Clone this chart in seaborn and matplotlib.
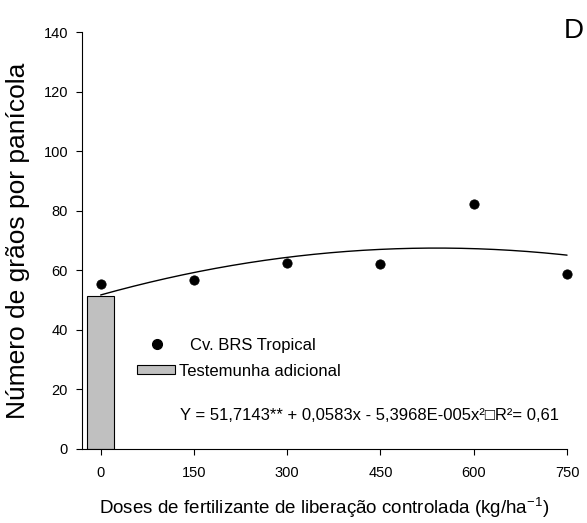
import numpy as np
import pandas as pd
import matplotlib
matplotlib.use("Agg")
import matplotlib.pyplot as plt
import seaborn as sns
from matplotlib.patches import Patch
from matplotlib.lines import Line2D

sns.set_style("ticks")
plt.rcParams['font.family'] = ['Liberation Sans', 'DejaVu Sans']
plt.rcParams['text.color'] = 'black'
plt.rcParams['axes.labelcolor'] = 'black'
plt.rcParams['xtick.color'] = 'black'
plt.rcParams['ytick.color'] = 'black'
plt.rcParams['axes.edgecolor'] = 'black'

doses = [0, 150, 300, 450, 600, 750]
graos = [55.3, 56.7, 62.5, 62.2, 82.3, 58.8]
control_x = [0]
control_y = [51.5]
coef = [51.7143, 0.0583, -5.3968e-05]
xticks = [0, 150, 300, 450, 600, 750]
yticks = [0, 20, 40, 60, 80, 100, 120, 140]

fig = plt.figure(figsize=(5.87, 5.23), dpi=100)
ax = fig.add_axes([0.1397, 0.1415, 0.8263, 0.7973])

ax.bar(control_x, control_y, width=43, color='#c0c0c0', edgecolor='black', linewidth=0.8, zorder=2)

xs = np.linspace(0, 750, 200)
curve = pd.DataFrame({'x': xs, 'y': coef[0] + coef[1] * xs + coef[2] * xs ** 2})
sns.lineplot(data=curve, x='x', y='y', ax=ax, color='black', linewidth=1.0, zorder=3, clip_on=False)

df = pd.DataFrame({'dose': doses, 'graos': graos})
sns.scatterplot(data=df, x='dose', y='graos', ax=ax, color='black', s=45, edgecolor='black',
                zorder=4, clip_on=False)

ax.set_xlim(-30, 750)
ax.set_ylim(0, 140)
ax.set_xticks(xticks)
ax.set_yticks(yticks)
ax.tick_params(axis='x', labelsize=10.5, length=4, width=0.8, direction='out', pad=8)
ax.tick_params(axis='y', labelsize=10.5, length=4, width=0.8, direction='out', pad=6)
for s in ['top', 'right']:
    ax.spines[s].set_visible(False)
for s in ['left', 'bottom']:
    ax.spines[s].set_linewidth(0.8)

ax.set_xlabel('Doses de fertilizante de liberação controlada (kg/ha$^{\\mathregular{-1}}$)', fontsize=13.5, labelpad=11)
ax.set_ylabel('Número de grãos por panícola', fontsize=19, labelpad=10)

h1 = [Line2D([0], [0], marker='o', color='none', markerfacecolor='black', markeredgecolor='black', markersize=7)]
leg1 = ax.legend(h1, ['Cv. BRS Tropical'], loc='center left', bbox_to_anchor=(0.1206, 0.249),
                 frameon=False, fontsize=12, handlelength=2.0, handletextpad=1.0,
                 borderpad=0, borderaxespad=0)
ax.add_artist(leg1)
h2 = [Patch(facecolor='#c0c0c0', edgecolor='black', linewidth=0.8)]
ax.legend(h2, ['Testemunha adicional'], loc='center left', bbox_to_anchor=(0.1134, 0.187),
          frameon=False, fontsize=12, handlelength=2.28, handleheight=0.5, handletextpad=0.25,
          borderpad=0, borderaxespad=0)

ax.text(0.202, 0.0815, 'Y = 51,7143** + 0,0583x - 5,3968E-005x²\u25a1R²= 0,61', transform=ax.transAxes,
        fontsize=12, ha='left', va='center')
fig.text(0.995, 0.94, 'D', fontsize=20, ha='right', va='center')

fig.savefig('out.png', dpi=100)
